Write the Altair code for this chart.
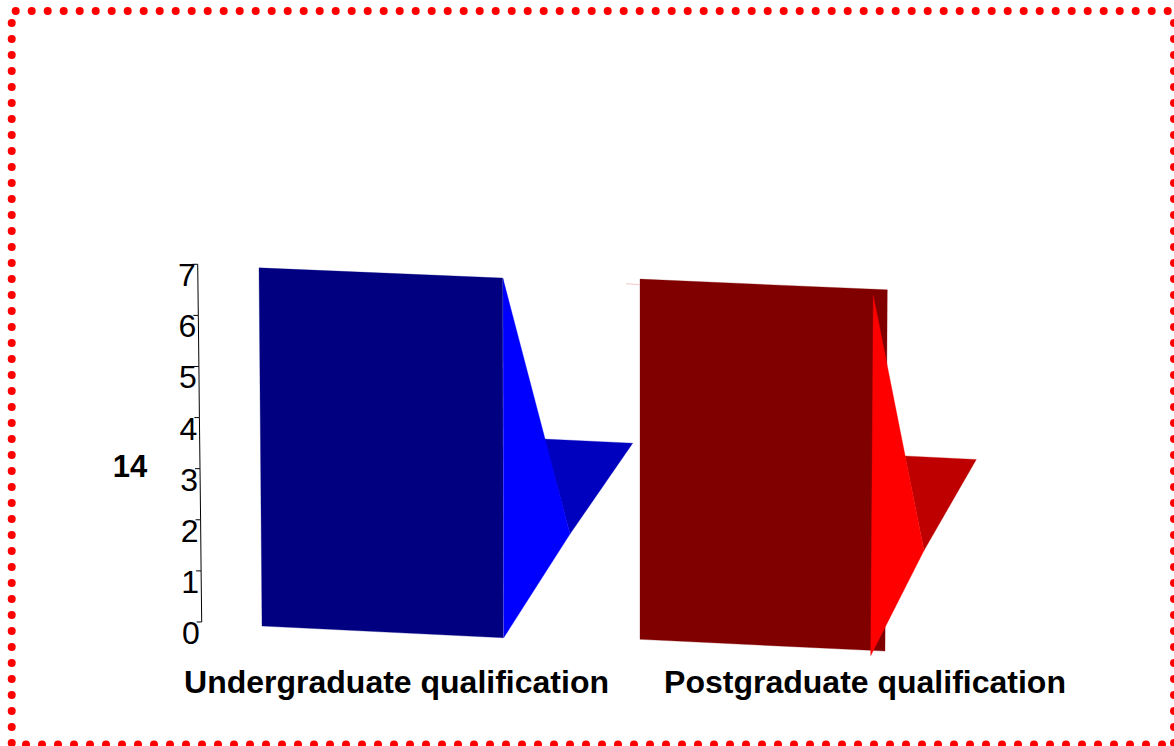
import altair as alt
import pandas as pd

FONT = "Liberation Sans"
W, H = 1174, 746

# Value axis: slanted by the chart's perspective, so each tick has its own horizontal position
tick_values = [0, 1, 2, 3, 4, 5, 6, 7]
tick_x = [201.7, 201.1, 200.6, 200.0, 199.4, 198.9, 198.3, 197.7]

# Outline of each visible face: horizontal position and value height
faces = [
    ("blue back", "#0000BF", [544.3, 632.7, 570.0], [3.58, 3.50, 1.72]),
    ("blue front", "#000080", [259.0, 502.7, 503.3, 262.0], [6.93, 6.73, -0.31, -0.08]),
    ("blue side", "#0000FF", [503.0, 570.0, 503.7], [6.72, 1.72, -0.31]),
    ("red back", "#BF0000", [905.0, 976.3, 924.0], [3.25, 3.18, 1.40]),
    ("red front", "#800000", [640.0, 887.3, 885.0, 640.0], [6.71, 6.50, -0.57, -0.34]),
    ("red side", "#FF0000", [873.3, 924.0, 870.7], [6.39, 1.40, -0.66]),
]

categories = ["Undergraduate qualification", "Postgraduate qualification"]
category_x = [396.5, 865.0]
category_v = [-1.2, -1.2]
row_label = "14"

# Dotted frame: start and end of each side, on the chart's horizontal and vertical scales
frame_h = [(15.7, 1174.0, 11.0), (26.0, 1174.0, 744.5)]
frame_v = [(11.7, 23.0, 746.0), (1174.0, 23.0, 746.0)]

x_scale = alt.Scale(domain=[0, W], nice=False, zero=False)
y_scale = alt.Scale(domain=[-2.427, 12.172], nice=False, zero=False)
x_enc = alt.X("x:Q", scale=x_scale, axis=None)
y_enc = alt.Y("v:Q", scale=y_scale, axis=None)

layers = []

# Dotted red frame: round caps on zero-length dashes
h_df = pd.DataFrame(frame_h, columns=["x", "x2", "py"])
v_df = pd.DataFrame(frame_v, columns=["x", "y1", "y2"])
py_scale = alt.Scale(domain=[0, H], range=[0, H], nice=False, zero=False)
frame_mark = dict(color="#FF0000", strokeWidth=8, strokeCap="round", strokeDash=[0, 16], clip=False)
layers.append(
    alt.Chart(h_df).mark_rule(**frame_mark).encode(
        x=x_enc,
        x2="x2:Q",
        y=alt.Y("py:Q", scale=py_scale, axis=None),
    )
)
layers.append(
    alt.Chart(v_df).mark_rule(**frame_mark).encode(
        x=x_enc,
        y=alt.Y("y1:Q", scale=py_scale, axis=None),
        y2="y2:Q",
    )
)

# Bars built face by face, back to front
for name, colour, xs, vs in faces:
    pts = pd.DataFrame({"x": xs + xs[:1], "v": vs + vs[:1]})
    pts["i"] = range(len(pts))
    layers.append(
        alt.Chart(pts).mark_line(fill=colour, stroke=colour, strokeWidth=0.3, interpolate="linear").encode(
            x=x_enc, y=y_enc, order="i:Q"
        )
    )

# Faint sliver left of the postgraduate bar's top edge
sliver = pd.DataFrame({"x": [626.0, 640.0], "v": [6.62, 6.60]})
layers.append(
    alt.Chart(sliver).mark_line(color="#F4C8C8", strokeWidth=1).encode(x=x_enc, y=y_enc)
)

# Axis line, ticks and labels
axis_df = pd.DataFrame({"x": tick_x, "v": tick_values, "label": [str(t) for t in tick_values]})
axis_df["x0"] = axis_df["x"] - 5
layers.append(
    alt.Chart(axis_df).mark_line(color="#000000", strokeWidth=1).encode(x=x_enc, y=y_enc, order="v:Q")
)
layers.append(
    alt.Chart(axis_df).mark_rule(color="#000000", strokeWidth=1).encode(x=x_enc, x2="x0:Q", y=y_enc)
)
layers.append(
    alt.Chart(axis_df).mark_text(
        font=FONT, fontSize=32, align="right", baseline="middle", dx=-2, dy=12, color="#000000"
    ).encode(x=x_enc, y=y_enc, text="label:N")
)

# Category and row labels
cat_df = pd.DataFrame({"x": category_x, "v": category_v, "label": categories})
layers.append(
    alt.Chart(cat_df).mark_text(
        font=FONT, fontSize=32, fontWeight="bold", align="center", baseline="middle", color="#000000"
    ).encode(x=x_enc, y=y_enc, text="label:N")
)
row_df = pd.DataFrame({"x": [130.0], "v": [3.02], "label": [row_label]})
layers.append(
    alt.Chart(row_df).mark_text(
        font=FONT, fontSize=31, fontWeight="bold", align="center", baseline="middle", color="#000000"
    ).encode(x=x_enc, y=y_enc, text="label:N")
)

chart = (
    alt.layer(*layers)
    .resolve_scale(y="independent")
    .properties(width=W, height=H, padding=0, autosize=alt.AutoSizeParams(type="none"), background="#FFFFFF")
    .configure_view(stroke=None)
)

chart.save("out.html", embed_options={"renderer": "svg", "actions": False})
